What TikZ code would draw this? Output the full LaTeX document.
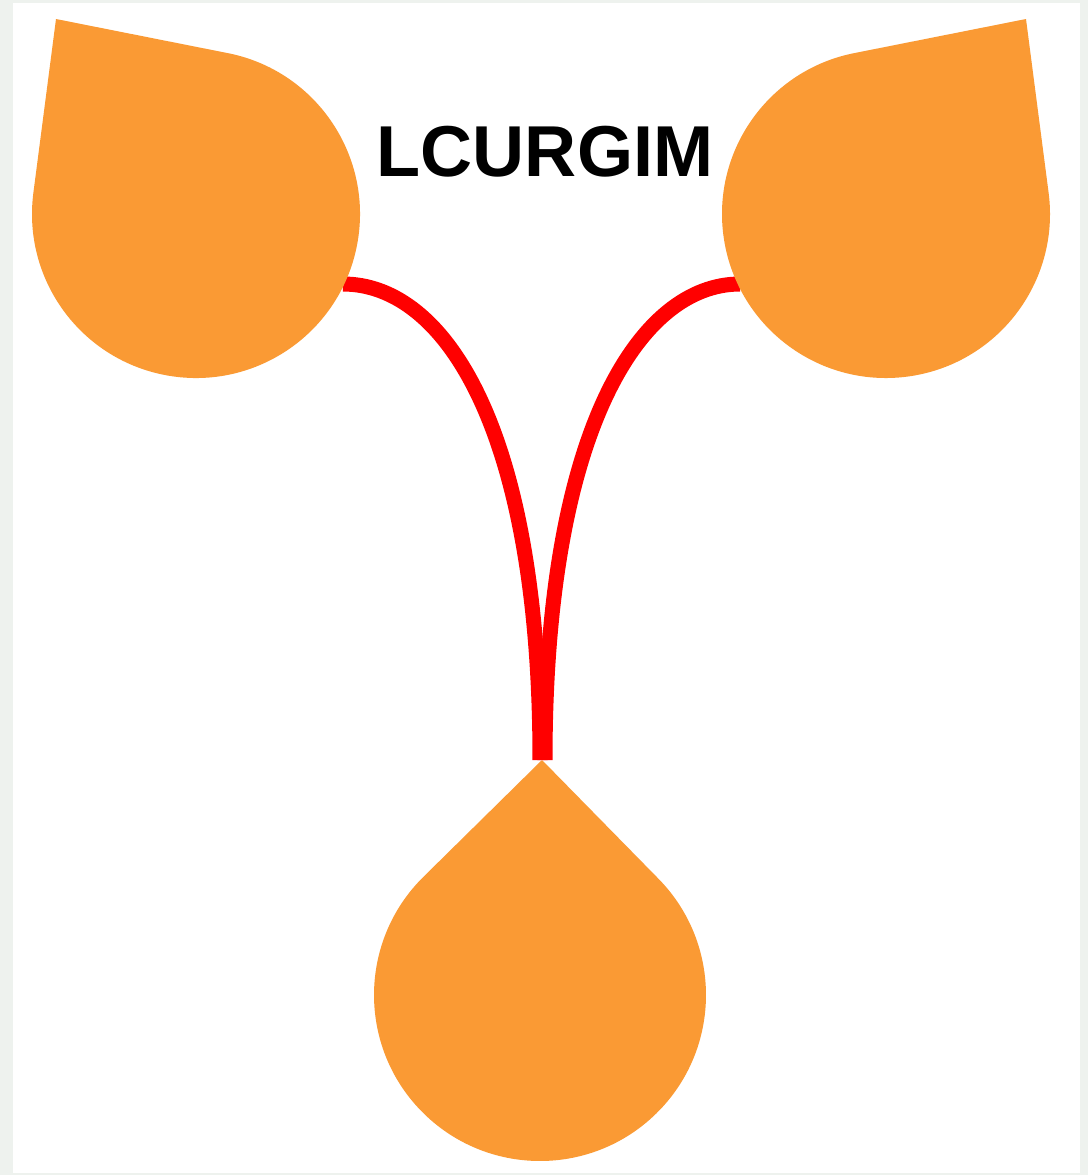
\documentclass[tikz,border=0pt]{standalone}
\usepackage{fontspec}
\setmainfont{Liberation Sans}
\usetikzlibrary{calc}

\definecolor{droporange}{RGB}{250,154,52}
\definecolor{framegrey}{RGB}{238,242,238}

\tikzset{
  drop/.style={fill=droporange},
  stem/.style={draw=red, line width=0.15cm},
}

% teardrop: centre x, centre y, radius, tip x, tip y
\newcommand{\teardrop}[5]{%
  \pgfmathsetmacro{\dropang}{atan2(#5-#2,#4-#1)}
  \pgfmathsetmacro{\dropopen}{acos(#3/veclen(#4-#1,#5-#2))}
  \pgfmathsetmacro{\dropstart}{\dropang+\dropopen}
  \pgfmathsetmacro{\dropend}{\dropang-\dropopen+360}
  \fill[drop] (#4,#5) -- ($(#1,#2)+(\dropstart:#3)$)
    arc[start angle=\dropstart, end angle=\dropend, radius=#3] -- cycle;
}

\begin{document}
\begin{tikzpicture}[x=0.01cm,y=-0.01cm]
  \useasboundingbox (0,0) rectangle (1088,1175);
  \fill[framegrey] (0,0) rectangle (1088,1175);
  \fill[white] (13,3) rectangle (1080,1173);

  % stems
  \coordinate (lstem) at (343,284);
  \coordinate (rstem) at (740,284);
  \coordinate (lend) at (540,760);
  \coordinate (rend) at (545,760);
  \draw[stem] (lstem) .. controls (445,284) and (540,430) .. (lend);
  \draw[stem] (rstem) .. controls (640,284) and (545,430) .. (rend);

  % drops
  \teardrop{196}{214}{164}{56}{19}
  \teardrop{886}{214}{164}{1026}{19}
  \teardrop{540}{995}{166}{542}{760}

  \node[font=\bfseries\fontsize{20.5}{24}\selectfont] (title) at (545,152) {LCURGIM};
\end{tikzpicture}
\end{document}
